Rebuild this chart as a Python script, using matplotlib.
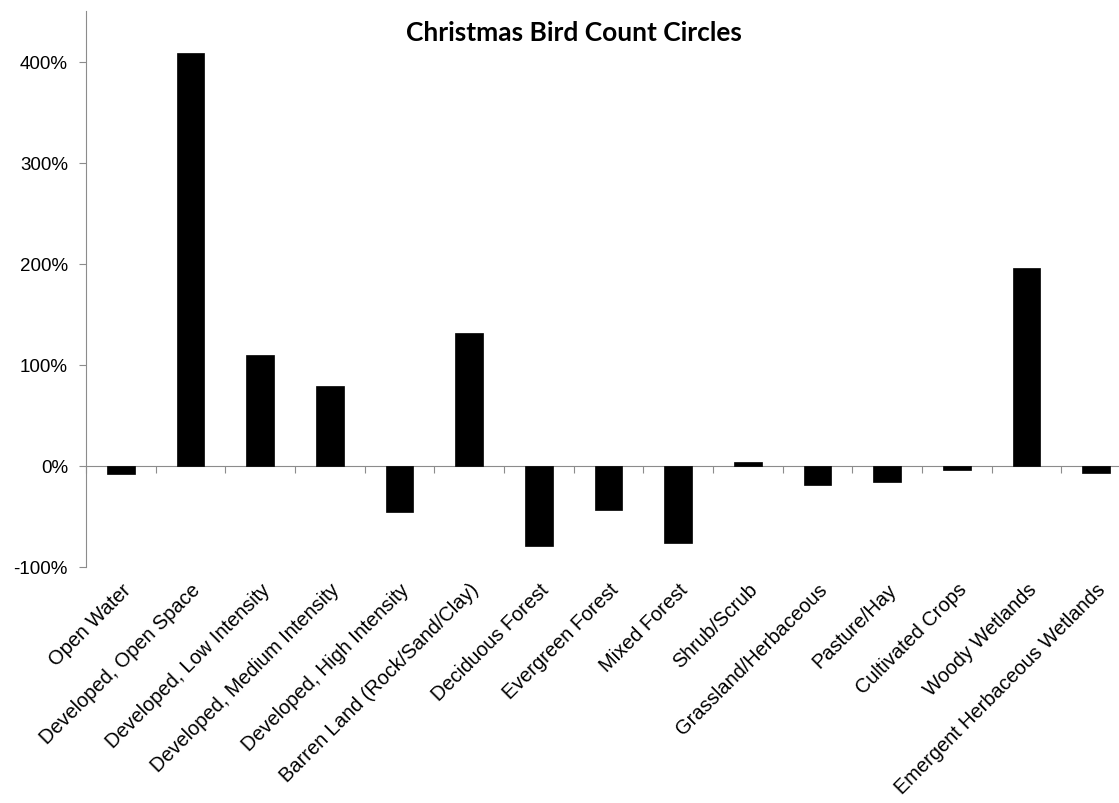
import numpy as np
import matplotlib.pyplot as plt
from matplotlib.ticker import FuncFormatter

categories = ["Open Water", "Developed, Open Space", "Developed, Low Intensity",
              "Developed, Medium Intensity", "Developed, High Intensity",
              "Barren Land (Rock/Sand/Clay)", "Deciduous Forest", "Evergreen Forest",
              "Mixed Forest", "Shrub/Scrub", "Grassland/Herbaceous", "Pasture/Hay",
              "Cultivated Crops", "Woody Wetlands", "Emergent Herbaceous Wetlands"]
change_pct = [-8, 408, 110, 79, -46, 131, -79, -44, -76, 4, -19, -16, -4, 196, -7]
y_ticks = [-100, 0, 100, 200, 300, 400]

plt.rcParams['font.family'] = ['Liberation Sans', 'DejaVu Sans']
grey = '#8c8c8c'

fig = plt.figure(figsize=(11.19, 8.04), dpi=100)
ax = fig.add_axes([86 / 1119, 1 - 568 / 804, (1131 - 86) / 1119, (568 - 12) / 804])

x = np.arange(len(categories))
ax.bar(x, change_pct, width=0.4, color='black', edgecolor='black', linewidth=0.5, zorder=3)

ax.set_xlim(-0.5, len(categories) - 0.5)
ax.set_ylim(-100, 450)

# y axis
ax.set_yticks(y_ticks)
ax.yaxis.set_major_formatter(FuncFormatter(lambda v, p: f"{v:.0f}%"))
ax.tick_params(axis='y', direction='out', length=5, color=grey, labelsize=13.5, pad=8)
ax.spines['left'].set_color(grey)
ax.spines['left'].set_bounds(-100, 450)
ax.spines['top'].set_visible(False)
ax.spines['right'].set_visible(False)

# zero line with boundary ticks
ax.spines['bottom'].set_position(('data', 0))
ax.spines['bottom'].set_color(grey)
ax.set_xticks(np.arange(len(categories) + 1) - 0.5)
ax.set_xticklabels([])
ax.tick_params(axis='x', direction='out', length=5, color=grey)

# category labels at bottom of plot area
sec = ax.secondary_xaxis(0.0)
sec.set_xticks(x)
sec.set_xticklabels(categories, rotation=45, ha='right', rotation_mode='anchor', fontsize=14.4)
sec.tick_params(length=0, pad=9)
sec.spines['bottom'].set_visible(False)

fig.text(573.5 / 1119, 1 - 33 / 804, "Christmas Bird Count Circles", fontsize=19,
         fontweight='bold', family=['Lato', 'DejaVu Sans'], ha='center', va='center')

fig.savefig('out.png', dpi=100)
